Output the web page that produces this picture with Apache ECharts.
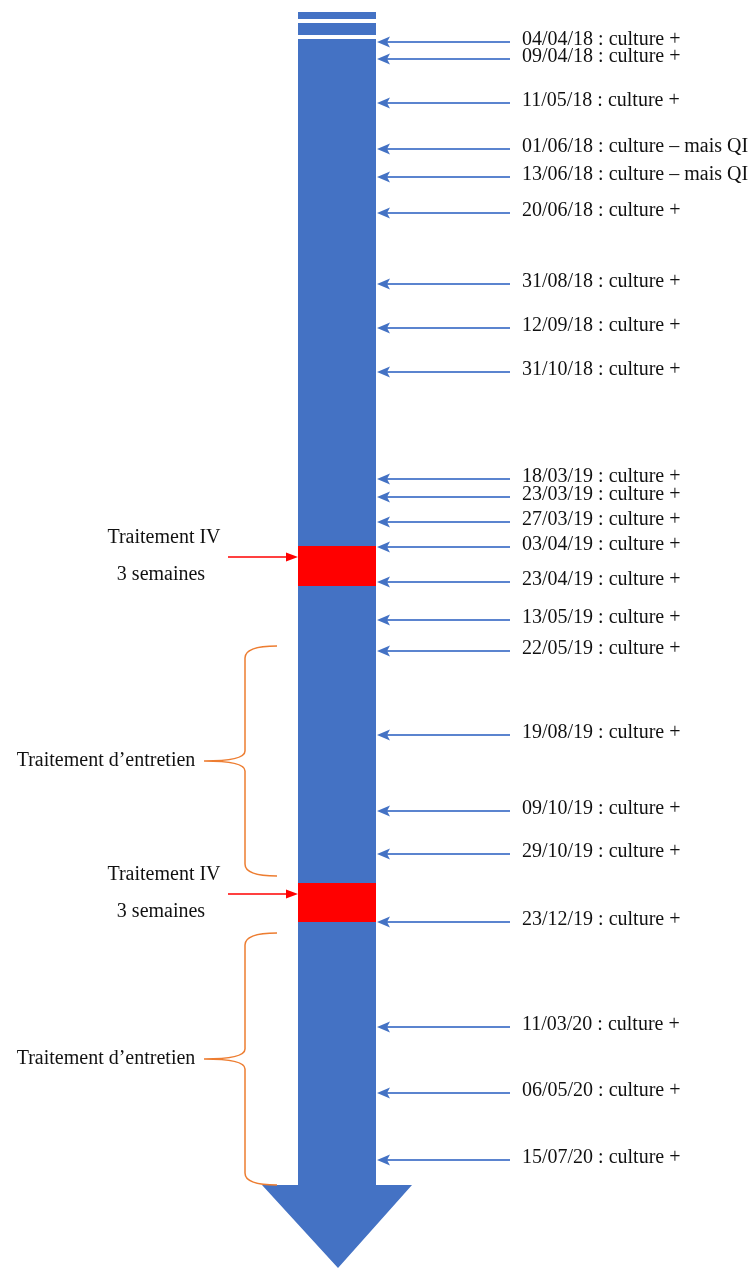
<!DOCTYPE html>
<html><head><meta charset="utf-8">
<script src="https://cdn.jsdelivr.net/npm/echarts@6/dist/echarts.min.js"></script>
<style>html,body{margin:0;padding:0;background:#fff}#c{width:754px;height:1268px}</style>
</head><body><div id="c"></div>
<script>
// ---- data (positions along the timeline) ----
const eventLabels = [
  '04/04/18 : culture +', '09/04/18 : culture +', '11/05/18 : culture +',
  '01/06/18 : culture – mais QI', '13/06/18 : culture – mais QI', '20/06/18 : culture +',
  '31/08/18 : culture +', '12/09/18 : culture +', '31/10/18 : culture +',
  '18/03/19 : culture +', '23/03/19 : culture +', '27/03/19 : culture +',
  '03/04/19 : culture +', '23/04/19 : culture +', '13/05/19 : culture +',
  '22/05/19 : culture +', '19/08/19 : culture +', '09/10/19 : culture +',
  '29/10/19 : culture +', '23/12/19 : culture +', '11/03/20 : culture +',
  '06/05/20 : culture +', '15/07/20 : culture +'
];
const eventPos = [42, 59, 103, 149, 177, 213, 284, 328, 372, 479, 497, 522, 547, 582,
  620, 651, 735, 811, 854, 922, 1027, 1093, 1160];
const ivLabels = ['Traitement IV', '3 semaines'];
const ivStart = [546, 883];
const ivEnd = [586, 922];
const maintLabel = 'Traitement d’entretien';
const maintStart = [646, 933];
const maintEnd = [876, 1185];
const headerBandStart = [12, 23];
const headerBandEnd = [19, 35];
const timeline = [[39, 1185, 1268]]; // start, end of shaft, arrow tip

// ---- layout / style constants ----
const BLUE = '#4472C4', RED = '#FF0000', ORANGE = '#ED7D31';
const FONT = "'Liberation Serif', 'Times New Roman', serif";
const SHAFT_L = 298, SHAFT_R = 376, HEAD_L = 262, HEAD_R = 412, TIP_X = 338;
const ARROW_FROM = 510, ARROW_TIP = 377, TEXT_X = 522;

const chart = echarts.init(document.getElementById('c'), null, {renderer: 'canvas'});

function rectFrom(api, x0, y0, x1, y1) {
  const a = api.coord([x0, y0]), b = api.coord([x1, y1]);
  return {x: a[0], y: a[1], width: b[0] - a[0], height: b[1] - a[1]};
}
function txt(api, x, y, text, align) {
  const p = api.coord([x, y]);
  return {type: 'text', style: {x: p[0], y: p[1], text: text, fill: '#111',
    font: '20px ' + FONT, textAlign: align || 'left', textVerticalAlign: 'middle'}};
}

const option = {
  animation: false,
  backgroundColor: '#fff',
  grid: {left: 0, right: 0, top: 0, bottom: 0},
  xAxis: {type: 'value', min: 0, max: 754, show: false},
  yAxis: {type: 'value', min: 0, max: 1268, inverse: true, show: false},
  series: [
    { // header bands
      type: 'custom', coordinateSystem: 'cartesian2d', encode: {y: 0},
      data: headerBandStart.map((s, i) => [s, headerBandEnd[i]]),
      renderItem: (params, api) => ({type: 'rect',
        shape: rectFrom(api, SHAFT_L, api.value(0), SHAFT_R, api.value(1)),
        style: {fill: BLUE}})
    },
    { // shaft + arrow head
      type: 'custom', coordinateSystem: 'cartesian2d', encode: {y: 0},
      data: timeline,
      renderItem: (params, api) => {
        const s = api.value(0), e = api.value(1), t = api.value(2);
        const pts = [[SHAFT_L, s], [SHAFT_R, s], [SHAFT_R, e], [HEAD_R, e], [TIP_X, t],
          [HEAD_L, e], [SHAFT_L, e]].map(p => api.coord(p));
        return {type: 'polygon', shape: {points: pts}, style: {fill: BLUE}};
      }
    },
    { // maintenance braces
      type: 'custom', coordinateSystem: 'cartesian2d', encode: {y: 0},
      data: maintStart.map((s, i) => [s, maintEnd[i]]),
      renderItem: (params, api) => {
        const s = api.value(0), e = api.value(1), m = (s + e) / 2;
        const xt = 277, xv = 245, xm = 204;
        const P = (x, y) => api.coord([x, y]).join(' ');
        const d = 'M ' + P(xt, s) + ' Q ' + P(xv, s) + ' ' + P(xv, s + 12) +
          ' L ' + P(xv, m - 10) + ' Q ' + P(xv, m) + ' ' + P(xm, m) +
          ' Q ' + P(xv, m) + ' ' + P(xv, m + 10) +
          ' L ' + P(xv, e - 12) + ' Q ' + P(xv, e) + ' ' + P(xt, e);
        return {type: 'group', children: [
          {type: 'path', shape: {pathData: d}, style: {fill: null, stroke: ORANGE, lineWidth: 1.5}},
          txt(api, 106, m, maintLabel, 'center')
        ]};
      }
    },
    { // IV treatment blocks
      type: 'custom', coordinateSystem: 'cartesian2d', encode: {y: 0},
      data: ivStart.map((s, i) => [s, ivEnd[i]]),
      renderItem: (params, api) => {
        const s = api.value(0), e = api.value(1), ay = s + 11;
        const a0 = api.coord([228, ay]), a1 = api.coord([288, ay]);
        const h = [[SHAFT_L, ay], [286, ay - 4.5], [286, ay + 4.5]].map(p => api.coord(p));
        return {type: 'group', children: [
          {type: 'rect', shape: rectFrom(api, SHAFT_L, s, SHAFT_R, e), style: {fill: RED}},
          {type: 'line', shape: {x1: a0[0], y1: a0[1], x2: a1[0], y2: a1[1]},
            style: {stroke: RED, lineWidth: 1.5}},
          {type: 'polygon', shape: {points: h}, style: {fill: RED}},
          txt(api, 164, s - 8, ivLabels[0], 'center'),
          txt(api, 161, s + 29, ivLabels[1], 'center')
        ]};
      }
    },
    { // culture events
      type: 'custom', coordinateSystem: 'cartesian2d', encode: {y: 0},
      data: eventPos.map(v => [v]),
      renderItem: (params, api) => {
        const y = api.value(0);
        const a0 = api.coord([ARROW_FROM, y]), a1 = api.coord([ARROW_TIP + 8, y]);
        const h = [[ARROW_TIP, y], [ARROW_TIP + 13, y - 5.5], [ARROW_TIP + 10, y],
          [ARROW_TIP + 13, y + 5.5]].map(p => api.coord(p));
        return {type: 'group', children: [
          {type: 'line', shape: {x1: a0[0], y1: a0[1], x2: a1[0], y2: a1[1]},
            style: {stroke: '#5B84CF', lineWidth: 2.2}},
          {type: 'polygon', shape: {points: h}, style: {fill: BLUE}},
          txt(api, TEXT_X, y - 2, eventLabels[params.dataIndex], 'left')
        ]};
      }
    }
  ]
};
chart.setOption(option);
</script></body></html>
